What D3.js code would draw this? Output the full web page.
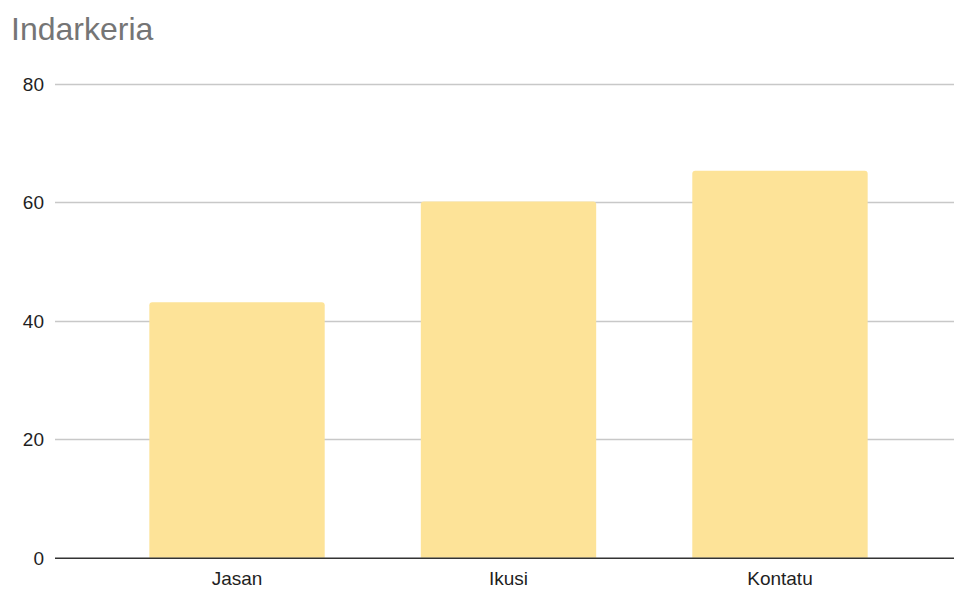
<!DOCTYPE html>
<html>
<head>
<meta charset="utf-8">
<script src="https://cdn.jsdelivr.net/npm/d3@7"></script>
<style>
  html, body { margin: 0; padding: 0; background: #fff; }
  svg { display: block; font-family: Arial, "Liberation Sans", sans-serif; }
</style>
</head>
<body>
<svg id="chart" width="954" height="590"></svg>
<script>
const title = "Indarkeria";
const categories = ["Jasan", "Ikusi", "Kontatu"];
const values = [43.1, 60.1, 65.3];
const yTicks = [0, 20, 40, 60, 80];

const svg = d3.select("#chart");
const W = 954, H = 590;

const y = d3.scaleLinear().domain([0, 80]).range([557.7, 83.5]);
const x = d3.scaleBand().domain(categories).range([63, 954])
  .paddingInner(0.354).paddingOuter(0.318).align(0.5);

svg.append("rect").attr("width", W).attr("height", H).attr("fill", "#fff");

svg.append("text")
  .attr("x", 11).attr("y", 40)
  .attr("font-size", 32)
  .attr("fill", "#757575")
  .text(title);

// gridlines
svg.append("g")
  .selectAll("line")
  .data(yTicks.filter(d => d !== 0))
  .join("line")
  .attr("x1", 55).attr("x2", W)
  .attr("y1", d => Math.round(y(d)) + 0.5)
  .attr("y2", d => Math.round(y(d)) + 0.5)
  .attr("stroke", "#c8c8c8").attr("stroke-width", 1.3);

// y tick labels
svg.append("g")
  .selectAll("text")
  .data(yTicks)
  .join("text")
  .attr("x", 44)
  .attr("y", d => y(d) + 7)
  .attr("text-anchor", "end")
  .attr("font-size", 19)
  .attr("fill", "#1f1f1f")
  .text(d => d);

// bars with rounded top corners
const r = 3;
svg.append("g")
  .selectAll("path")
  .data(categories.map((c, i) => ({c, v: values[i]})))
  .join("path")
  .attr("fill", "#fde398")
  .attr("d", d => {
    const x0 = x(d.c), x1 = x0 + x.bandwidth();
    const y0 = y(d.v), yb = y(0);
    return `M${x0},${yb}V${y0 + r}Q${x0},${y0} ${x0 + r},${y0}H${x1 - r}Q${x1},${y0} ${x1},${y0 + r}V${yb}Z`;
  });

// baseline
svg.append("line")
  .attr("x1", 55).attr("x2", W)
  .attr("y1", y(0) + 0.5).attr("y2", y(0) + 0.5)
  .attr("stroke", "#333").attr("stroke-width", 1.5);

// x labels
svg.append("g")
  .selectAll("text")
  .data(categories)
  .join("text")
  .attr("x", d => x(d) + x.bandwidth() / 2)
  .attr("y", 585)
  .attr("text-anchor", "middle")
  .attr("font-size", 19)
  .attr("fill", "#1f1f1f")
  .text(d => d);
</script>
</body>
</html>
